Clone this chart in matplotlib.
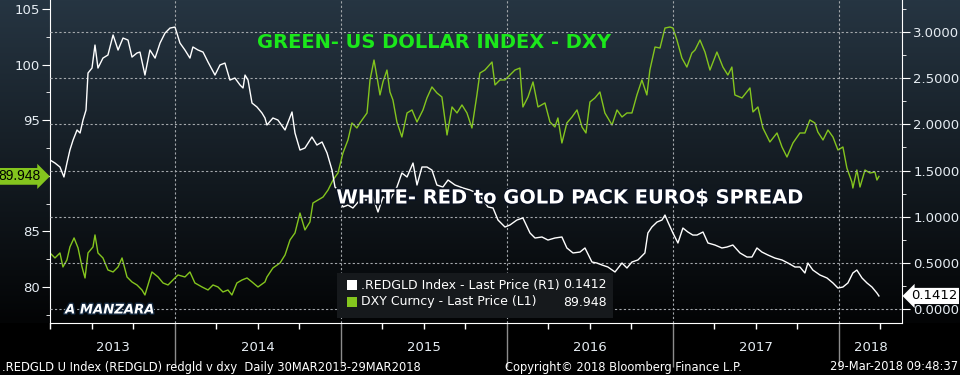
import matplotlib
matplotlib.use('Agg')
import matplotlib.pyplot as plt
import matplotlib.patheffects as pe
import matplotlib.transforms as mtransforms
from matplotlib.patches import Rectangle
from matplotlib.ticker import FormatStrFormatter
import numpy as np

plt.rcParams['font.family'] = ['DejaVu Sans']

# DXY Curncy (left axis) - decimal year, value
dxy_t = [2013.247, 2013.277, 2013.307, 2013.325, 2013.349, 2013.367, 2013.392, 2013.416, 2013.440, 2013.458,
         2013.476, 2013.506, 2013.518, 2013.536, 2013.566, 2013.596, 2013.627, 2013.657, 2013.681, 2013.711,
         2013.741, 2013.771, 2013.801, 2013.819, 2013.837, 2013.861, 2013.898, 2013.928, 2013.958, 2013.988,
         2014.018, 2014.060, 2014.090, 2014.120, 2014.163, 2014.199, 2014.229, 2014.259, 2014.289, 2014.319,
         2014.343, 2014.373, 2014.404, 2014.434, 2014.464, 2014.500, 2014.542, 2014.554, 2014.590, 2014.633,
         2014.663, 2014.693, 2014.723, 2014.753, 2014.783, 2014.813, 2014.831, 2014.861, 2014.892, 2014.922,
         2014.952, 2014.982, 2015.012, 2015.042, 2015.066, 2015.096, 2015.114, 2015.157, 2015.175, 2015.199,
         2015.217, 2015.235, 2015.253, 2015.277, 2015.295, 2015.313, 2015.337, 2015.367, 2015.398, 2015.428,
         2015.458, 2015.494, 2015.518, 2015.548, 2015.578, 2015.608, 2015.639, 2015.669, 2015.699, 2015.729,
         2015.759, 2015.789, 2015.819, 2015.837, 2015.867, 2015.910, 2015.928, 2015.958, 2015.988, 2016.018,
         2016.048, 2016.078, 2016.096, 2016.127, 2016.157, 2016.187, 2016.229, 2016.259, 2016.289, 2016.307,
         2016.331, 2016.361, 2016.392, 2016.422, 2016.452, 2016.476, 2016.500, 2016.530, 2016.560, 2016.590,
         2016.633, 2016.663, 2016.693, 2016.723, 2016.753, 2016.783, 2016.813, 2016.843, 2016.861, 2016.892,
         2016.922, 2016.952, 2016.982, 2017.000, 2017.024, 2017.054, 2017.084, 2017.114, 2017.133, 2017.163,
         2017.193, 2017.223, 2017.265, 2017.301, 2017.331, 2017.355, 2017.373, 2017.416, 2017.464, 2017.482,
         2017.512, 2017.542, 2017.584, 2017.627, 2017.657, 2017.687, 2017.723, 2017.765, 2017.795, 2017.825,
         2017.855, 2017.873, 2017.904, 2017.934, 2017.964, 2017.994, 2018.024, 2018.048, 2018.078, 2018.084,
         2018.108, 2018.127, 2018.157, 2018.187, 2018.217, 2018.229, 2018.241]
dxy_v = [83.06, 82.61, 83.06, 81.80, 82.43, 83.60, 84.41, 83.51, 81.80, 80.81,
         83.06, 83.60, 84.68, 83.06, 82.61, 81.53, 81.35, 81.80, 82.61, 80.90,
         80.45, 80.18, 79.73, 79.28, 80.18, 81.35, 80.90, 80.36, 80.18, 80.63,
         81.08, 80.90, 81.35, 80.36, 80.00, 79.73, 80.18, 80.00, 79.55, 79.73,
         79.28, 80.36, 80.63, 80.81, 80.45, 80.00, 80.45, 80.90, 81.71, 82.16,
         82.88, 84.23, 84.86, 86.65, 85.13, 85.85, 87.55, 87.82, 88.09, 88.72,
         89.62, 90.25, 92.05, 93.22, 94.75, 94.30, 94.75, 95.65, 98.62, 100.41,
         98.88, 97.27, 98.44, 99.51, 97.54, 96.82, 94.84, 93.49, 95.65, 95.92,
         94.84, 95.92, 97.00, 97.99, 97.45, 97.09, 93.67, 96.19, 95.65, 96.37,
         95.65, 94.30, 97.27, 99.24, 99.51, 100.23, 98.17, 98.62, 98.62, 99.06,
         99.51, 99.69, 96.19, 97.09, 98.44, 96.19, 96.55, 94.84, 94.39, 95.20,
         92.95, 94.75, 95.29, 95.92, 94.39, 93.85, 96.64, 97.00, 97.54, 95.65,
         94.57, 95.92, 95.29, 95.65, 95.65, 97.27, 98.62, 97.27, 99.51, 101.58,
         101.49, 103.29, 103.38, 103.29, 102.21, 100.59, 99.78, 101.04, 101.31, 102.21,
         101.13, 99.51, 101.13, 99.78, 99.06, 99.78, 97.27, 97.00, 97.90, 95.74,
         96.19, 94.30, 93.04, 93.85, 92.59, 91.69, 92.95, 93.85, 93.85, 95.02,
         94.75, 93.94, 93.22, 94.12, 93.49, 92.32, 92.59, 90.70, 89.44, 88.90,
         90.52, 88.99, 90.52, 90.25, 90.34, 89.62, 89.948]

# .REDGLD Index (right axis) - decimal year, value
red_t = [2013.247, 2013.277, 2013.307, 2013.331, 2013.349, 2013.367, 2013.386, 2013.410, 2013.428, 2013.446,
         2013.464, 2013.476, 2013.500, 2013.518, 2013.536, 2013.566, 2013.596, 2013.627, 2013.657, 2013.687,
         2013.717, 2013.741, 2013.771, 2013.789, 2013.819, 2013.849, 2013.880, 2013.910, 2013.940, 2013.970,
         2014.000, 2014.030, 2014.060, 2014.090, 2014.108, 2014.139, 2014.169, 2014.199, 2014.241, 2014.271,
         2014.301, 2014.331, 2014.361, 2014.392, 2014.410, 2014.422, 2014.440, 2014.464, 2014.494, 2014.524,
         2014.542, 2014.554, 2014.590, 2014.620, 2014.663, 2014.705, 2014.723, 2014.753, 2014.783, 2014.825,
         2014.855, 2014.886, 2014.916, 2014.946, 2014.964, 2014.982, 2015.012, 2015.042, 2015.072, 2015.114,
         2015.157, 2015.193, 2015.223, 2015.253, 2015.295, 2015.337, 2015.367, 2015.398, 2015.434, 2015.458,
         2015.488, 2015.518, 2015.548, 2015.578, 2015.614, 2015.645, 2015.687, 2015.735, 2015.777, 2015.819,
         2015.849, 2015.886, 2015.916, 2015.946, 2015.988, 2016.018, 2016.060, 2016.096, 2016.139, 2016.169,
         2016.211, 2016.247, 2016.289, 2016.331, 2016.361, 2016.398, 2016.440, 2016.470, 2016.512, 2016.542,
         2016.572, 2016.608, 2016.651, 2016.693, 2016.723, 2016.753, 2016.789, 2016.831, 2016.849, 2016.873,
         2016.904, 2016.934, 2016.952, 2016.970, 2017.000, 2017.030, 2017.060, 2017.090, 2017.120, 2017.145,
         2017.181, 2017.211, 2017.253, 2017.295, 2017.325, 2017.361, 2017.404, 2017.446, 2017.476, 2017.506,
         2017.536, 2017.572, 2017.614, 2017.657, 2017.693, 2017.735, 2017.765, 2017.795, 2017.813, 2017.843,
         2017.886, 2017.928, 2017.964, 2017.994, 2018.024, 2018.054, 2018.084, 2018.108, 2018.139, 2018.169,
         2018.199, 2018.229, 2018.241]
red_v = [1.614, 1.581, 1.538, 1.430, 1.581, 1.722, 1.830, 1.939, 1.906, 2.047,
         2.155, 2.556, 2.610, 2.859, 2.610, 2.718, 2.751, 2.968, 2.805, 2.935,
         2.913, 2.729, 2.773, 2.783, 2.534, 2.805, 2.718, 2.881, 2.989, 3.043,
         3.054, 2.881, 2.805, 2.718, 2.838, 2.805, 2.783, 2.675, 2.534, 2.643,
         2.664, 2.480, 2.502, 2.426, 2.394, 2.534, 2.480, 2.231, 2.188, 2.123,
         2.069, 1.993, 2.069, 2.047, 1.939, 2.134, 1.906, 1.722, 1.744, 1.863,
         1.776, 1.809, 1.690, 1.505, 1.321, 1.289, 1.105, 1.126, 1.094, 1.181,
         1.181, 1.213, 1.051, 1.213, 1.181, 1.321, 1.473, 1.430, 1.581, 1.343,
         1.538, 1.538, 1.505, 1.343, 1.321, 1.397, 1.343, 1.311, 1.289, 1.256,
         1.202, 1.105, 1.094, 0.964, 0.888, 0.910, 0.964, 0.986, 0.823, 0.769,
         0.780, 0.747, 0.769, 0.780, 0.661, 0.607, 0.617, 0.661, 0.509, 0.498,
         0.477, 0.455, 0.401, 0.498, 0.444, 0.509, 0.531, 0.607, 0.823, 0.888,
         0.942, 0.964, 1.018, 0.942, 0.823, 0.715, 0.877, 0.834, 0.801, 0.801,
         0.834, 0.715, 0.693, 0.661, 0.671, 0.693, 0.607, 0.563, 0.563, 0.661,
         0.617, 0.585, 0.552, 0.531, 0.498, 0.455, 0.455, 0.390, 0.498, 0.422,
         0.368, 0.336, 0.282, 0.227, 0.238, 0.282, 0.390, 0.422, 0.336, 0.282,
         0.238, 0.173, 0.1412]

years = [2013, 2014, 2015, 2016, 2017, 2018]
last_dxy = '89.948'
last_red = '0.1412'

GREEN = '#84c51e'
TXT = '#e6edf3'
GRID = '#a4a8ac'

fig = plt.figure(figsize=(9.6, 3.75), dpi=100)
fig.patch.set_facecolor('black')

# background gradient over the chart band
bg = fig.add_axes([0, 52 / 375, 1, 323 / 375])
g = np.linspace(0, 1, 256)[:, None, None]
top = np.array([38, 53, 66]) / 255
bot = np.array([3, 4, 5]) / 255
bg.imshow(top * (1 - g) + bot * g, aspect='auto', extent=[0, 1, 0, 1])
bg.axis('off')
bg.set_zorder(-10)

ax = fig.add_axes([50 / 960, 52 / 375, 852 / 960, 323 / 375])
ax.patch.set_alpha(0)
ax2 = ax.twinx()
ax2.patch.set_alpha(0)

ax.plot(dxy_t, dxy_v, color=GREEN, lw=1.0)
ax2.plot(red_t, red_v, color='white', lw=1.0)

ax.set_xlim(2013.247, 2018.38)
ax.set_ylim(76.76, 105.81)
ax2.set_ylim(-0.1516, 3.347)

# x axis
ax.set_xticks(years[1:])
ax.set_xticklabels([])
ax.set_xticks(np.arange(2013.25, 2018.4, 0.25), minor=True)
ax.tick_params(axis='x', which='major', length=32, color='#8c8c8c', width=1)
ax.tick_params(axis='x', which='minor', length=4, color='white', width=1)
ax.xaxis.grid(True, color=GRID, linestyle=(0, (2, 2)), lw=0.8)
xmin, xmax = ax.get_xlim()
for yr in years:
    lo, hi = max(yr, xmin), min(yr + 1, xmax)
    ax.text((lo + hi) / 2, -0.077, str(yr), transform=ax.get_xaxis_transform(),
            ha='center', va='center', color=TXT, fontsize=9.5)

# left axis
ax.set_yticks(np.arange(80, 106, 5))
ax.set_yticks(np.arange(77.5, 106, 2.5), minor=True)
ax.tick_params(axis='y', which='major', length=6, color='white', labelcolor=TXT, labelsize=9.5, pad=1)
ax.tick_params(axis='y', which='minor', length=3, color='white')

# right axis
ax2.set_yticks(np.arange(0, 3.01, 0.5))
ax2.set_yticks(np.arange(0, 3.3, 0.25), minor=True)
ax2.yaxis.set_major_formatter(FormatStrFormatter('%.4f'))
ax2.tick_params(axis='y', which='major', length=6, color='white', labelcolor=TXT, labelsize=9.5, pad=2)
ax2.tick_params(axis='y', which='minor', length=3, color='white')
ax2.yaxis.grid(True, color=GRID, linestyle=(0, (2, 2)), lw=0.8)

for s in ['top', 'right']:
    ax.spines[s].set_visible(False)
for s in ['top', 'left', 'bottom']:
    ax2.spines[s].set_visible(False)
ax.spines['left'].set_color('white')
ax.spines['bottom'].set_color('white')
ax2.spines['right'].set_color('white')

# last value tags
tl = mtransforms.blended_transform_factory(ax.transAxes, ax.transData)
ax.text(-0.0105, float(last_dxy), last_dxy, transform=tl, ha='right', va='center',
        color='black', fontsize=10, clip_on=False, family='Liberation Sans',
        bbox=dict(boxstyle='rarrow,pad=0.1', fc=GREEN, ec='none'))
tr = mtransforms.blended_transform_factory(ax2.transAxes, ax2.transData)
ax2.text(1.0106, float(last_red), last_red, transform=tr, ha='left', va='center',
         color='black', fontsize=9.5, clip_on=False,
         bbox=dict(boxstyle='larrow,pad=0.12', fc='white', ec='none'))

# annotations
fig.text(434 / 960, 1 - 43 / 375, 'GREEN- US DOLLAR INDEX - DXY', ha='center', va='center',
         color='#1be81b', fontsize=14, fontweight='bold')
fig.text(570 / 960, 1 - 198 / 375, 'WHITE- RED to GOLD PACK EURO$ SPREAD', ha='center', va='center',
         color='white', fontsize=14, fontweight='bold',
         path_effects=[pe.Stroke(linewidth=2.2, foreground='#0b1322'), pe.Normal()])
fig.text(110 / 960, 1 - 310 / 375, 'A MANZARA', ha='center', va='center',
         color='white', fontsize=9.5, fontweight='bold', fontstyle='italic',
         path_effects=[pe.Stroke(linewidth=2, foreground='#10243a'), pe.Normal()])

# legend box
fig.add_artist(Rectangle((337 / 960, 1 - 318 / 375), 276 / 960, 45 / 375, transform=fig.transFigure,
                         fc='#16191c', ec='none', zorder=3))
leg = [('white', '.REDGLD Index - Last Price (R1)', last_red, 285),
       (GREEN, 'DXY Curncy - Last Price (L1)', last_dxy, 302)]
for col, lab, val, yy in leg:
    fig.add_artist(Rectangle((347 / 960, 1 - (yy + 5) / 375), 10 / 960, 10 / 375,
                             transform=fig.transFigure, fc=col, ec='none', zorder=4))
    fig.text(361 / 960, 1 - yy / 375, lab, ha='left', va='center', color='white', fontsize=9, zorder=4)
    fig.text(607 / 960, 1 - yy / 375, val, ha='right', va='center', color='white', fontsize=9, zorder=4)

# footer
fig.text(2 / 960, 1 - 367 / 375, '.REDGLD U Index (REDGLD) redgld v dxy  Daily 30MAR2013-29MAR2018',
         ha='left', va='center', color='white', fontsize=8.3)
fig.text(505 / 960, 1 - 367 / 375, 'Copyright\u00a9 2018 Bloomberg Finance L.P.',
         ha='left', va='center', color='white', fontsize=8.3)
fig.text(958 / 960, 1 - 367 / 375, '29-Mar-2018 09:48:37',
         ha='right', va='center', color='white', fontsize=8.3)

fig.savefig('out.png', dpi=100, facecolor='black')
